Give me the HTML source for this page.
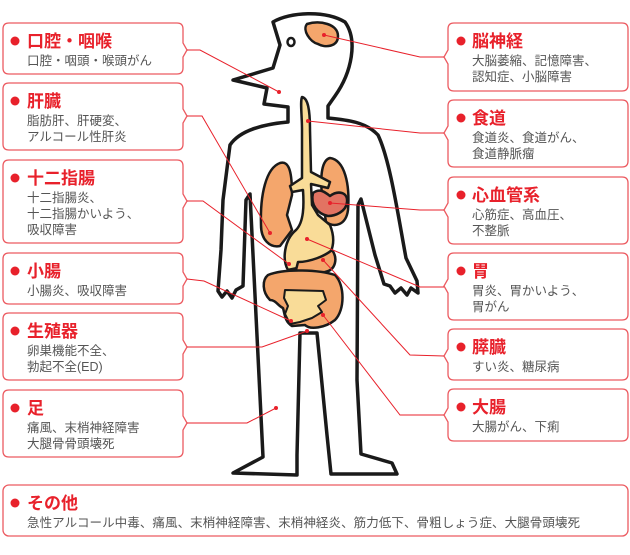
<!DOCTYPE html>
<html><head><meta charset="utf-8"><style>
html,body{margin:0;padding:0;background:#fff}
svg{display:block}
.t{font-family:"Liberation Sans","Noto Sans CJK JP",sans-serif;font-weight:bold;font-size:17px;fill:#e8212b}
.d{font-family:"Liberation Sans","Noto Sans CJK JP",sans-serif;font-size:12.5px;fill:#555}
.bx{fill:#fff;stroke:#ec5a60;stroke-width:1.3}
.ln{stroke:#e8212b;stroke-width:1;fill:none}
.dt{fill:#e8212b}
</style></head><body>
<svg width="630" height="555" viewBox="0 0 630 555" xmlns="http://www.w3.org/2000/svg">
<!-- body -->
<g stroke="#1a1a1a" stroke-width="3.5" stroke-linejoin="round" stroke-linecap="round">
<path fill="none" d="M273,22 C290,12 325,10 345,22 C358,40 352,72 335,96 L328,106 L328,118 C348,120 366,122 378,135 C390,160 398,215 406,258 L417,281 L418,293 L411,288 L407,295 L401,288 L395,293 L390,286 L384,284 L375,255 L361,199 L358,205 L357,380 L361,454 L392,463 L397,474 L331,474 L327,435 L317,333 L300,333 L297,455 L297,475 L233,473 L263,457 L250,194 L246,200 L243,286 L236,290 L232,298 L227,291 L222,297 L218,291 L221,250 L223,200 L230,145 C240,130 265,124 288,122 L288,107 L264,104 L267,88 L233,80 L273,68 L280,45 Z"/>
<ellipse cx="291" cy="42" rx="3.5" ry="4" fill="none" stroke-width="2.5"/>
<path fill="#f4a66c" stroke-width="2.5" d="M307,24 C320,20 338,24 338,36 C338,47 325,48 318,44 C310,42 302,30 307,24Z"/>
<path fill="#f4a66c" stroke-width="2.5" d="M280,163 C290,160 292,175 292,195 L287,215 L292,230 L280,246 C270,248 261,240 261,225 C260,195 266,168 280,163Z"/>
<path fill="#f4a66c" stroke-width="2.5" d="M330,158 C345,160 350,185 348,210 C346,225 335,228 326,222 L322,195 C320,175 322,160 330,158Z"/>
<path fill="#f9dc98" stroke-width="2.5" d="M302,97 C308,98 310,110 310,130 L311,172 L330,182 L328,188 L311,184 L312,205 L318,215 L330,225 C336,240 334,255 320,262 C310,266 296,268 288,270 C282,260 284,240 296,230 C304,222 304,205 303,190 L292,192 L290,186 L302,178 L302,130 C302,115 300,102 302,97Z"/>
<path fill="#e27362" stroke-width="2.5" d="M313,193 C320,188 325,192 330,196 C338,190 348,192 347,202 C346,212 335,216 328,216 C318,214 310,205 313,193Z"/>
<path fill="#f4a66c" stroke-width="2.5" d="M298,262 C310,262 325,256 332,250 C338,258 336,270 325,272 C312,272 300,274 296,270Z"/>
<path fill="#f4a66c" stroke-width="2.5" d="M268,275 C285,268 320,270 335,275 C345,285 345,310 335,320 C325,328 310,330 305,325 L292,326 C285,322 285,315 283,308 C278,306 276,300 270,300 C262,292 262,280 268,275Z"/>
<path fill="#f9dc98" stroke-width="2" d="M285,290 L323,291 L326,300 L318,306 L322,312 L312,318 L300,322 L290,324 L285,314 L288,306 L284,298Z"/>
</g>
<!-- left boxes -->
<path class="bx" d="M9,23H177Q183,23 183,29V43L187,50L183,57V68Q183,74 177,74H9Q3,74 3,68V29Q3,23 9,23Z"/>
<path class="bx" d="M9,83H177Q183,83 183,89V109L187,116L183,123V144Q183,150 177,150H9Q3,150 3,144V89Q3,83 9,83Z"/>
<path class="bx" d="M9,160H177Q183,160 183,166V194L187,201L183,208V237Q183,243 177,243H9Q3,243 3,237V166Q3,160 9,160Z"/>
<path class="bx" d="M9,253H177Q183,253 183,259V272L187,279L183,286V298Q183,304 177,304H9Q3,304 3,298V259Q3,253 9,253Z"/>
<path class="bx" d="M9,313H177Q183,313 183,319V340L187,347L183,354V374Q183,380 177,380H9Q3,380 3,374V319Q3,313 9,313Z"/>
<path class="bx" d="M9,390H177Q183,390 183,396V416L187,423L183,430V451Q183,457 177,457H9Q3,457 3,451V396Q3,390 9,390Z"/>
<!-- right boxes -->
<path class="bx" d="M454,23H622Q628,23 628,29V85Q628,91 622,91H454Q448,91 448,85V64L444,57L448,50V29Q448,23 454,23Z"/>
<path class="bx" d="M454,100H622Q628,100 628,106V161Q628,167 622,167H454Q448,167 448,161V140L444,133L448,126V106Q448,100 454,100Z"/>
<path class="bx" d="M454,177H622Q628,177 628,183V238Q628,244 622,244H454Q448,244 448,238V217L444,210L448,203V183Q448,177 454,177Z"/>
<path class="bx" d="M454,253H622Q628,253 628,259V314Q628,320 622,320H454Q448,320 448,314V293L444,286L448,279V259Q448,253 454,253Z"/>
<path class="bx" d="M454,329H622Q628,329 628,335V374Q628,380 622,380H454Q448,380 448,374V363L444,356L448,349V335Q448,329 454,329Z"/>
<path class="bx" d="M454,389H622Q628,389 628,395V435Q628,441 622,441H454Q448,441 448,435V422L444,415L448,408V395Q448,389 454,389Z"/>
<rect class="bx" x="3" y="485" width="625" height="51" rx="6"/>
<!-- connectors -->
<g class="ln">
<polyline points="187,50 200,50 279,92"/>
<polyline points="187,116 202,116 270,233"/>
<polyline points="187,201 203,201 289,264"/>
<polyline points="187,279 204,281 291,321"/>
<polyline points="187,347 262,347 307,331"/>
<polyline points="187,423 247,423 276,408"/>
<polyline points="444,57 420,57 324,35"/>
<polyline points="444,133 420,133 308,121"/>
<polyline points="444,210 420,210 330,203"/>
<polyline points="444,287 420,287 307,239"/>
<polyline points="444,356 410,355 323,260"/>
<polyline points="444,415 400,415 323,315"/>
</g>
<g class="dt">
<circle cx="279" cy="92" r="2"/><circle cx="270" cy="233" r="2"/><circle cx="289" cy="264" r="2"/>
<circle cx="291" cy="321" r="2"/><circle cx="307" cy="331" r="2"/><circle cx="276" cy="408" r="2"/>
<circle cx="324" cy="35" r="2"/><circle cx="308" cy="121" r="2"/><circle cx="330" cy="203" r="2"/>
<circle cx="307" cy="239" r="2"/><circle cx="323" cy="260" r="2"/><circle cx="323" cy="315" r="2"/>
<!-- bullets -->
<circle cx="15" cy="41" r="4.5"/><circle cx="15" cy="101" r="4.5"/><circle cx="15" cy="178" r="4.5"/>
<circle cx="15" cy="271" r="4.5"/><circle cx="15" cy="331" r="4.5"/><circle cx="15" cy="408" r="4.5"/>
<circle cx="461" cy="41" r="4.5"/><circle cx="461" cy="118" r="4.5"/><circle cx="461" cy="195" r="4.5"/>
<circle cx="461" cy="271" r="4.5"/><circle cx="461" cy="347" r="4.5"/><circle cx="461" cy="407" r="4.5"/>
<circle cx="15" cy="503" r="4.5"/>
</g>
<!-- text left -->
<text class="t" x="27" y="47">口腔・咽喉</text>
<text class="d" x="27" y="65">口腔・咽頭・喉頭がん</text>
<text class="t" x="27" y="107">肝臓</text>
<text class="d" x="27" y="125">脂肪肝、肝硬変、</text>
<text class="d" x="27" y="141">アルコール性肝炎</text>
<text class="t" x="27" y="184">十二指腸</text>
<text class="d" x="27" y="202">十二指腸炎、</text>
<text class="d" x="27" y="218">十二指腸かいよう、</text>
<text class="d" x="27" y="234">吸収障害</text>
<text class="t" x="27" y="277">小腸</text>
<text class="d" x="27" y="295">小腸炎、吸収障害</text>
<text class="t" x="27" y="337">生殖器</text>
<text class="d" x="27" y="355">卵巣機能不全、</text>
<text class="d" x="27" y="371">勃起不全(ED)</text>
<text class="t" x="27" y="414">足</text>
<text class="d" x="27" y="432">痛風、末梢神経障害</text>
<text class="d" x="27" y="448">大腿骨骨頭壊死</text>
<!-- text right -->
<text class="t" x="472" y="47">脳神経</text>
<text class="d" x="472" y="65">大脳萎縮、記憶障害、</text>
<text class="d" x="472" y="81">認知症、小脳障害</text>
<text class="t" x="472" y="124">食道</text>
<text class="d" x="472" y="142">食道炎、食道がん、</text>
<text class="d" x="472" y="158">食道静脈瘤</text>
<text class="t" x="472" y="201">心血管系</text>
<text class="d" x="472" y="219">心筋症、高血圧、</text>
<text class="d" x="472" y="235">不整脈</text>
<text class="t" x="472" y="277">胃</text>
<text class="d" x="472" y="295">胃炎、胃かいよう、</text>
<text class="d" x="472" y="311">胃がん</text>
<text class="t" x="472" y="353">膵臓</text>
<text class="d" x="472" y="371">すい炎、糖尿病</text>
<text class="t" x="472" y="413">大腸</text>
<text class="d" x="472" y="431">大腸がん、下痢</text>
<!-- bottom -->
<text class="t" x="27" y="509">その他</text>
<text class="d" x="27" y="527" textLength="553" lengthAdjust="spacing">急性アルコール中毒、痛風、末梢神経障害、末梢神経炎、筋力低下、骨粗しょう症、大腿骨頭壊死</text>
</svg>
</body></html>
